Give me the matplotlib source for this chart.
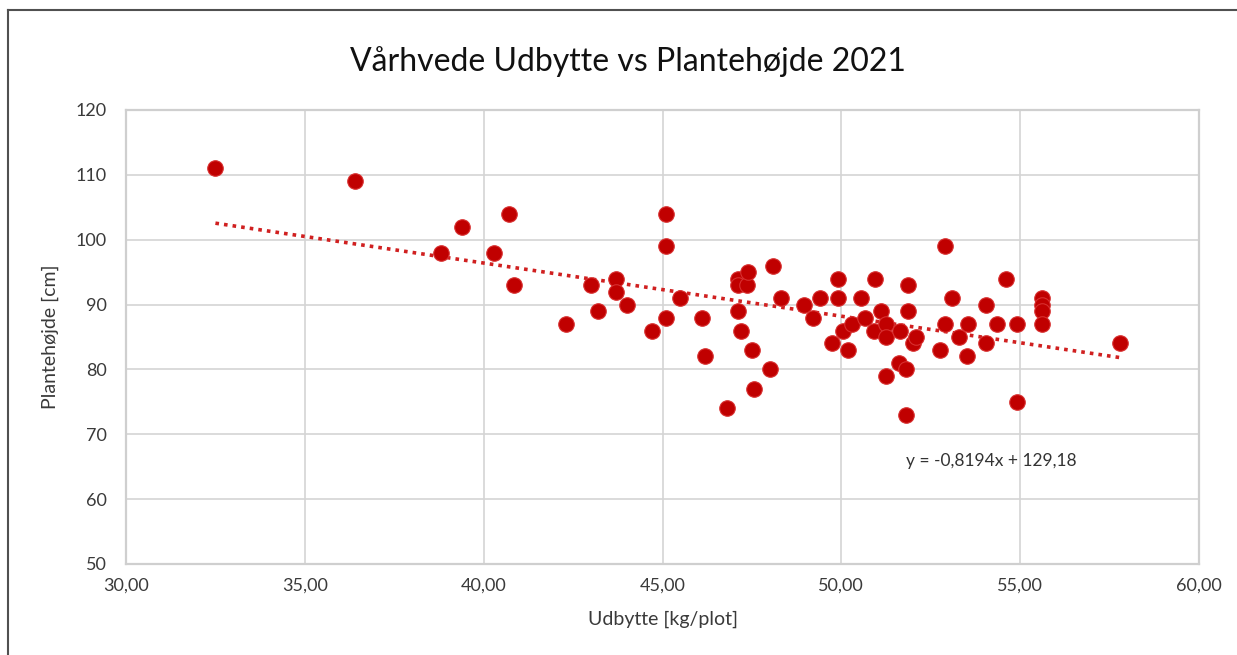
import matplotlib
matplotlib.use('Agg')
import matplotlib.pyplot as plt
from matplotlib.lines import Line2D
from matplotlib.ticker import FuncFormatter, MultipleLocator
import numpy as np

plt.rcParams['font.family'] = ['Lato', 'DejaVu Sans']

# data: yield (kg/plot) vs plant height (cm)
udbytte = [32.5, 36.4, 38.8, 39.4, 40.3, 40.7, 40.85, 42.3, 43.0, 43.2,
           43.7, 43.7, 44.0, 44.7, 45.1, 45.1, 45.1, 45.5, 46.1, 46.2,
           46.8, 47.1, 47.1, 47.35, 47.4, 47.1, 47.2, 47.5, 48.0, 47.55,
           48.1, 48.3, 48.95, 49.2, 49.4, 49.9, 49.9, 49.75, 50.05, 50.3,
           50.2, 50.55, 50.65, 50.95, 51.1, 50.9, 51.25, 51.25, 51.25, 51.6,
           51.8, 51.8, 51.65, 51.85, 51.85, 52.0, 52.1, 52.9, 53.1, 52.9,
           52.75, 53.3, 53.55, 53.5, 54.05, 54.05, 54.35, 54.6, 54.9, 54.9,
           55.6, 55.6, 55.6, 55.6, 57.8]
hoejde = [111, 109, 98, 102, 98, 104, 93, 87, 93, 89,
          94, 92, 90, 86, 104, 99, 88, 91, 88, 82,
          74, 94, 93, 93, 95, 89, 86, 83, 80, 77,
          96, 91, 90, 88, 91, 94, 91, 84, 86, 87,
          83, 91, 88, 94, 89, 86, 87, 85, 79, 81,
          80, 73, 86, 93, 89, 84, 85, 99, 91, 87,
          83, 85, 87, 82, 90, 84, 87, 94, 87, 75,
          91, 90, 89, 87, 84]

# trendline from the equation shown on the chart
slope = -0.8194
intercept = 129.18

red = '#C00000'

fig = plt.figure(figsize=(12.37, 6.55), dpi=100)
ax = fig.add_axes([126 / 1237, 1 - 564 / 655, (1199 - 126) / 1237, (564 - 110) / 655])

ax.scatter(udbytte, hoejde, s=125, color=red, edgecolors='#d83030', linewidths=0.8, zorder=3)

xt = np.array([min(udbytte), max(udbytte)])
ax.plot(xt, slope * xt + intercept, color='#d02020', linestyle=(0, (1, 1.4)), linewidth=2.6, zorder=2)

ax.text(51.8, 65.9, 'y = -0,8194x + 129,18', fontsize=12.5, color='#333333', va='center', ha='left')

ax.set_xlim(30, 60)
ax.set_ylim(50, 120)
ax.xaxis.set_major_locator(MultipleLocator(5))
ax.yaxis.set_major_locator(MultipleLocator(10))
ax.xaxis.set_major_formatter(FuncFormatter(lambda v, p: f'{v:.2f}'.replace('.', ',')))
ax.yaxis.set_major_formatter(FuncFormatter(lambda v, p: f'{v:.0f}'))
ax.tick_params(length=0, labelsize=13, labelcolor='#3a3a3a', pad=10)
ax.tick_params(axis='y', pad=14)
ax.grid(True, color='#d4d4d4', linewidth=1.2)
ax.set_axisbelow(True)
for s in ax.spines.values():
    s.set_color('#cfcfcf')
    s.set_linewidth(1.6)

ax.set_xlabel('Udbytte [kg/plot]', fontsize=14, color='#3a3a3a', labelpad=12)
ax.set_ylabel('Plantehøjde [cm]', fontsize=14, color='#3a3a3a', labelpad=12)
fig.text(0.508, 1 - 62 / 655, 'Vårhvede Udbytte vs Plantehøjde 2021', fontsize=23,
         ha='center', va='center', color='#111111')

# outer frame (cropped at right and bottom)
fig.add_artist(Line2D([8 / 1237, 8 / 1237], [0, 1 - 10 / 655], color='#505050', linewidth=1.5))
fig.add_artist(Line2D([8 / 1237, 1], [1 - 10 / 655, 1 - 10 / 655], color='#505050', linewidth=1.5))

fig.savefig('out.png', dpi=100)
